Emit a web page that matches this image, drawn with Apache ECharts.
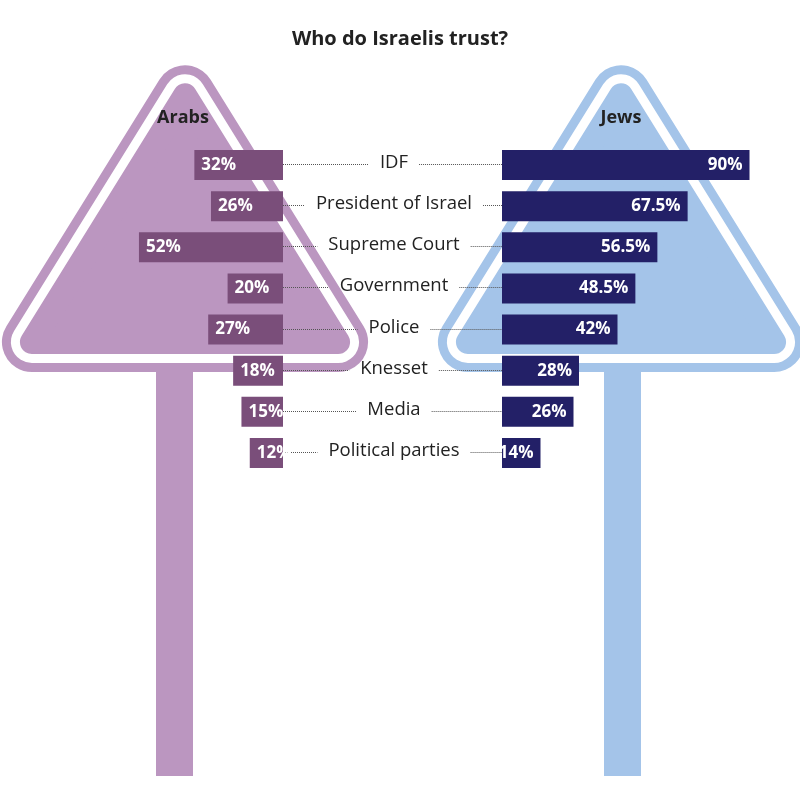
<!DOCTYPE html>
<html><head><meta charset="utf-8">
<script src="https://cdn.jsdelivr.net/npm/echarts@6/dist/echarts.min.js"></script>
<style>html,body{margin:0;padding:0;background:#fff}#c{width:800px;height:785px}</style>
</head><body><div id="c"></div>
<script>
const titleText = 'Who do Israelis trust?';
const groupNames = ['Arabs', 'Jews'];
const categories = ['IDF', 'President of Israel', 'Supreme Court', 'Government', 'Police', 'Knesset', 'Media', 'Political parties'];
const arabsValues = [32, 26, 52, 20, 27, 18, 15, 12];
const jewsValues = [90, 67.5, 56.5, 48.5, 42, 28, 26, 14];

const PURPLE_LIGHT = '#bb96c0', PURPLE_DARK = '#7a4e7a', BLUE_LIGHT = '#a4c4e9', NAVY = '#232067';
const FONT = '"Open Sans", "Noto Sans", sans-serif';
const LABEL_SIZE = 18.5;

const measureCtx = document.createElement('canvas').getContext('2d');
measureCtx.font = LABEL_SIZE + 'px "Open Sans"';
function textW(t) { return measureCtx.measureText(t).width; }

function sign(cx, color, postX) {
  const apexY = 95.3, baseY = 342, halfBase = 153.1;
  const pts = [[cx, apexY], [cx - halfBase, baseY], [cx + halfBase, baseY]];
  const els = [{ type: 'rect', silent: true, shape: { x: postX, y: 366, width: 37, height: 410 }, style: { fill: color } }];
  [[30, color], [21, '#ffffff'], [12, color]].forEach(function (l) {
    els.push({ type: 'polygon', silent: true, shape: { points: pts },
      style: { fill: l[1], stroke: l[1], lineWidth: 2 * l[0], lineJoin: 'round' } });
  });
  return els;
}

const chart = echarts.init(document.getElementById('c'), null, { renderer: 'canvas' });
const gridTop = 144.5, gridH = 329;
const option = {
  animation: false,
  backgroundColor: '#ffffff',
  title: { text: titleText, left: 'center', top: 24,
    textStyle: { fontSize: 20, fontWeight: 'bold', color: '#222', fontFamily: FONT } },
  graphic: [].concat(
    sign(185, PURPLE_LIGHT, 156),
    sign(621, BLUE_LIGHT, 604),
    [
      { type: 'text', silent: true, x: 183, y: 118, style: { text: groupNames[0], align: 'center', verticalAlign: 'middle', fill: '#222', font: 'bold 18px ' + FONT } },
      { type: 'text', silent: true, x: 621, y: 118, style: { text: groupNames[1], align: 'center', verticalAlign: 'middle', fill: '#222', font: 'bold 18px ' + FONT } }
    ]
  ),
  grid: [
    { left: 6, width: 277, top: gridTop, height: gridH },
    { left: 502, width: 275, top: gridTop, height: gridH },
    { left: 283, width: 219, top: gridTop, height: gridH }
  ],
  xAxis: [
    { gridIndex: 0, type: 'value', min: 0, max: 100, inverse: true, show: false },
    { gridIndex: 1, type: 'value', min: 0, max: 100, show: false },
    { gridIndex: 2, type: 'value', min: 0, max: 1, show: false }
  ],
  yAxis: [0, 1, 2].map(function (i) {
    return { gridIndex: i, type: 'category', data: categories, inverse: true, show: false };
  }),
  series: [
    { type: 'bar', xAxisIndex: 0, yAxisIndex: 0, data: arabsValues, barWidth: 30,
      itemStyle: { color: PURPLE_DARK },
      label: { show: true, position: 'insideLeft', distance: 7, formatter: '{c}%', color: '#fff', fontWeight: 'bold', fontSize: 17, fontFamily: FONT } },
    { type: 'bar', xAxisIndex: 1, yAxisIndex: 1, data: jewsValues, barWidth: 30,
      itemStyle: { color: NAVY },
      label: { show: true, position: 'insideRight', distance: 7, formatter: '{c}%', color: '#fff', fontWeight: 'bold', fontSize: 17, fontFamily: FONT } },
    { type: 'custom', xAxisIndex: 2, yAxisIndex: 2,
      data: categories.map(function (c) { return [0.5, c]; }),
      renderItem: function (params, api) {
        const idx = api.value(1);
        const name = categories[idx];
        const p0 = api.coord([0, idx]);
        const p1 = api.coord([1, idx]);
        const y = Math.round(p0[1]) - 0.5;
        const cx = (p0[0] + p1[0]) / 2 + 1.5;
        const w = textW(name), gap = 11;
        const ls = { stroke: '#555', lineWidth: 1, lineDash: [1, 1] };
        return { type: 'group', children: [
          { type: 'line', shape: { x1: p0[0], y1: y, x2: cx - w / 2 - gap, y2: y }, style: ls },
          { type: 'line', shape: { x1: cx + w / 2 + gap, y1: y, x2: p1[0], y2: y }, style: ls },
          { type: 'text', style: { text: name, x: cx, y: y - 2, align: 'center', verticalAlign: 'middle', fill: '#222', fontSize: LABEL_SIZE, fontFamily: FONT } }
        ] };
      } }
  ]
};
chart.setOption(option);
</script></body></html>
